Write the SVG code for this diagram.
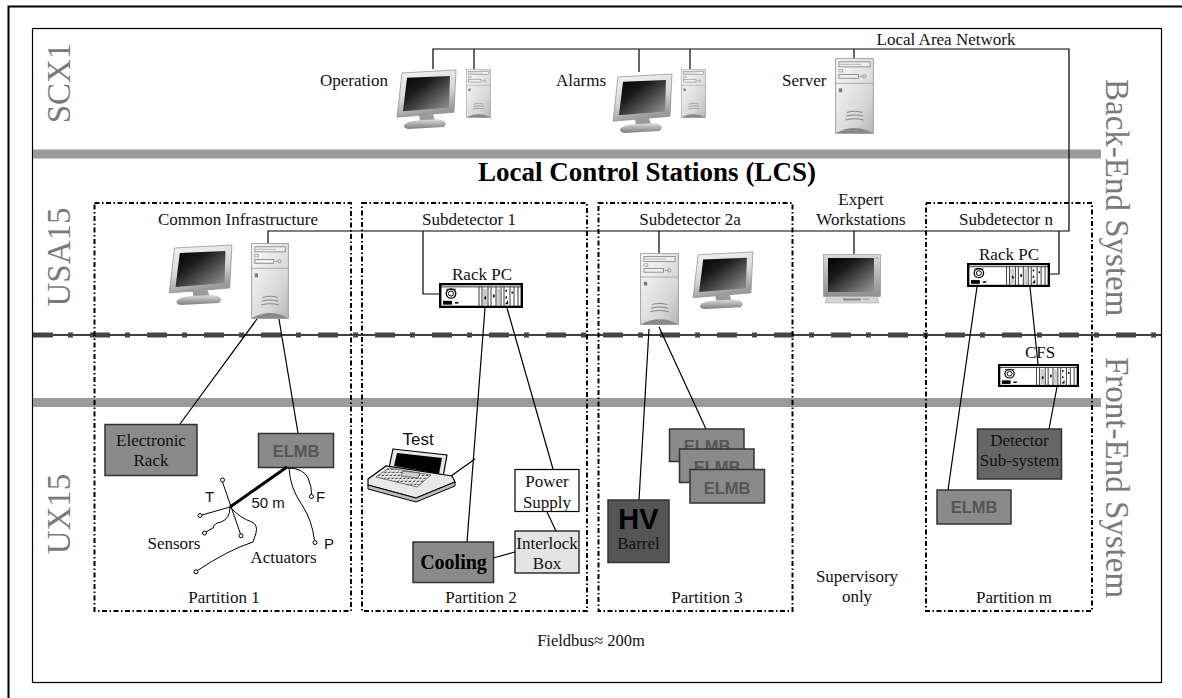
<svg xmlns="http://www.w3.org/2000/svg" width="1182" height="698" viewBox="0 0 1182 698">
<style>
  .serif { font-family: "Liberation Serif", "Times New Roman", serif; font-size: 17px; fill: #111; }
  .sans { font-family: "Liberation Sans", Arial, sans-serif; fill: #111; }
  .region { font-family: "Liberation Serif", "Times New Roman", serif; font-size: 33px; fill: #7a7a7a; }
  .mid { text-anchor: middle; }
  .part { fill: none; stroke: #000; stroke-width: 2; stroke-dasharray: 5 2.5 1.5 2.5; }
  .wire { fill: none; stroke: #000; stroke-width: 1.2; }
  .box { stroke: #333; stroke-width: 1.5; }
  .elmb { fill: #8a8a8a; stroke: #333; stroke-width: 1.5; }
  .elmbt { font-family: "Liberation Sans", Arial, sans-serif; font-weight: bold; font-size: 16.5px; fill: #555; text-anchor: middle; }
  .bar { fill: #9a9a9a; }
  .tip { fill: #fff; stroke: #000; stroke-width: 1; }
</style>
<defs>
  <linearGradient id="gFrame" x1="0" y1="0" x2="0.3" y2="1">
    <stop offset="0" stop-color="#f6f6f6"/>
    <stop offset="0.6" stop-color="#d6d6d6"/>
    <stop offset="1" stop-color="#9a9a9a"/>
  </linearGradient>
  <linearGradient id="gScreen" x1="0" y1="0" x2="1" y2="1">
    <stop offset="0" stop-color="#000"/>
    <stop offset="0.35" stop-color="#1c1c1c"/>
    <stop offset="1" stop-color="#9a9a9a"/>
  </linearGradient>
  <linearGradient id="gBase" x1="0" y1="0" x2="0" y2="1">
    <stop offset="0" stop-color="#dcdcdc"/>
    <stop offset="1" stop-color="#7c7c7c"/>
  </linearGradient>
  <linearGradient id="gTower" x1="0" y1="0" x2="1" y2="1">
    <stop offset="0" stop-color="#fafafa"/>
    <stop offset="0.7" stop-color="#d6d6d6"/>
    <stop offset="1" stop-color="#b4b4b4"/>
  </linearGradient>
  <linearGradient id="gCrt" x1="0" y1="0" x2="0" y2="1">
    <stop offset="0" stop-color="#d8d8d8"/>
    <stop offset="1" stop-color="#8e8e8e"/>
  </linearGradient>
  <pattern id="keys" width="4" height="3" patternUnits="userSpaceOnUse" patternTransform="skewX(-40)">
    <rect width="4" height="3" fill="#fff"/>
    <rect x="0.5" y="0.5" width="2.6" height="1.8" fill="#555"/>
  </pattern>

  <!-- flat-panel monitor on a stand -->
  <symbol id="lcd" viewBox="0 0 64 64" preserveAspectRatio="none">
    <path d="M8 5 L62 2 L60 45 L3 50 Z" fill="url(#gFrame)" stroke="#8a8a8a" stroke-width="0.7"/>
    <path d="M13 10 L56 8 L55 40 L9 44 Z" fill="url(#gScreen)"/>
    <path d="M25 48 L39 47 L41 53 L26 54 Z" fill="#9a9a9a"/>
    <path d="M10 58 Q12 54 24 53 L44 52 Q52 53 52 57 L50 60 L14 62 Q9 61 10 58 Z" fill="url(#gBase)"/>
  </symbol>

  <!-- desktop tower case -->
  <symbol id="tower" viewBox="0 0 30 60" preserveAspectRatio="none">
    <rect x="0.5" y="0.5" width="29" height="59" fill="url(#gTower)" stroke="#999" stroke-width="0.7"/>
    <rect x="3" y="3" width="24" height="4" fill="#eee" stroke="#777" stroke-width="0.6"/>
    <line x1="4" y1="5" x2="20" y2="5" stroke="#999" stroke-width="0.5"/>
    <rect x="3" y="9" width="3" height="2" fill="none" stroke="#888" stroke-width="0.5"/>
    <rect x="3" y="13" width="15" height="3" fill="#eee" stroke="#777" stroke-width="0.6"/>
    <circle cx="22.5" cy="14.5" r="1.3" fill="none" stroke="#777" stroke-width="0.5"/>
    <line x1="19" y1="14.5" x2="21.2" y2="14.5" stroke="#777" stroke-width="0.5"/>
    <line x1="0.5" y1="20" x2="29.5" y2="20" stroke="#999" stroke-width="0.6"/>
    <rect x="3" y="24" width="2.5" height="3" fill="#777"/>
    <path d="M9 43 Q15 41 21 43 M8.5 46 Q15 44 21.5 46 M8 49 Q15 47 22 49" stroke="#888" fill="none" stroke-width="0.8"/>
    <path d="M0.5 59.5 Q15 51 29.5 59.5 Z" fill="#8a8a8a"/>
  </symbol>

  <!-- rack-mounted industrial PC -->
  <symbol id="rackpc" viewBox="0 0 84 26" preserveAspectRatio="none">
    <rect x="1.2" y="1.2" width="81.6" height="23.6" fill="#fff" stroke="#000" stroke-width="2.4"/>
    <line x1="1" y1="4" x2="83" y2="4" stroke="#000" stroke-width="0.8"/>
    <circle cx="12" cy="11" r="4.8" fill="none" stroke="#000" stroke-width="1.3"/>
    <circle cx="12" cy="11" r="2.6" fill="none" stroke="#000" stroke-width="1"/>
    <line x1="7" y1="6.5" x2="17" y2="6.5" stroke="#000" stroke-width="0.8"/>
    <rect x="4" y="18.5" width="9" height="4" fill="#000"/>
    <rect x="16" y="19.8" width="3.5" height="1.6" fill="#000"/>
    <g stroke="#000" stroke-width="0.8">
      <line x1="40" y1="4" x2="40" y2="24"/>
      <line x1="43" y1="4" x2="43" y2="24"/>
      <line x1="49" y1="4" x2="49" y2="24"/>
      <line x1="52" y1="4" x2="52" y2="24"/>
      <line x1="57" y1="4" x2="57" y2="24"/>
      <line x1="62" y1="4" x2="62" y2="24"/>
      <line x1="65" y1="4" x2="65" y2="24"/>
      <line x1="71" y1="4" x2="71" y2="24"/>
      <line x1="75" y1="4" x2="75" y2="24"/>
      <line x1="79" y1="4" x2="79" y2="24"/>
    </g>
    <rect x="44" y="6" width="4" height="17" fill="#ccc"/>
    <rect x="58" y="6" width="3" height="17" fill="#ccc"/>
    <rect x="45.5" y="14" width="1.6" height="3" fill="#000"/>
    <rect x="54" y="12" width="1.6" height="3" fill="#000"/>
    <rect x="66.5" y="7" width="1.5" height="2" fill="#000"/>
    <rect x="66.5" y="14" width="1.5" height="2" fill="#000"/>
    <rect x="72.5" y="9" width="1.5" height="2" fill="#000"/>
    <path d="M66 22 L69 18 L69 22 Z" fill="#000"/>
  </symbol>

  <!-- CRT monitor -->
  <symbol id="crt" viewBox="0 0 58 50" preserveAspectRatio="none">
    <rect x="0.5" y="0.5" width="57" height="42" fill="url(#gCrt)" stroke="#888" stroke-width="0.6"/>
    <rect x="5" y="4" width="46" height="34" fill="url(#gScreen)"/>
    <circle cx="54" cy="4" r="0.8" fill="#777"/>
    <path d="M4 42.5 L54 42.5 L56 49 L2 49 Z" fill="#d4d4d4" stroke="#999" stroke-width="0.5"/>
    <rect x="20" y="44.5" width="18" height="2" fill="#8a8a8a"/>
    <rect x="40" y="44.5" width="6" height="1.5" fill="#aaa"/>
  </symbol>
</defs>

<rect width="1182" height="698" fill="#fff"/>

<!-- page frame -->
<g id="frame" fill="none">
  <path d="M8.5 698 L8.5 6.5 L1182 6.5" stroke="#000" stroke-width="2"/>
  <rect x="32.5" y="28.5" width="1129" height="654" stroke="#000" stroke-width="1.2"/>
</g>

<!-- level separators -->
<g id="levels">
  <rect class="bar" x="33" y="149.5" width="1068" height="9"/>
  <rect class="bar" x="33" y="398" width="1068" height="9"/>
  <line x1="33" y1="335" x2="1161" y2="335" stroke="#000" stroke-width="1.5"/>
  <line x1="33" y1="335" x2="1161" y2="335" stroke="#444" stroke-width="5" stroke-dasharray="20 15 5 17"/>
</g>

<!-- level and system labels -->
<g id="region-labels">
  <text class="region mid" transform="translate(70,83) rotate(-90)">SCX1</text>
  <text class="region mid" transform="translate(70,257) rotate(-90)">USA15</text>
  <text class="region mid" transform="translate(70,514) rotate(-90)">UX15</text>
  <text class="region" transform="translate(1106,79) rotate(90)">Back-End System</text>
  <text class="region" transform="translate(1106,357) rotate(90)">Front-End System</text>
</g>

<text id="title" class="serif mid" x="647" y="181" style="font-size:27px;font-weight:bold;fill:#000">Local Control Stations (LCS)</text>

<!-- partitions -->
<g id="partitions">
  <rect class="part" x="94.5" y="203" width="256.5" height="408"/>
  <rect class="part" x="362" y="203" width="225" height="408"/>
  <rect class="part" x="598.5" y="203" width="194" height="408"/>
  <rect class="part" x="926" y="203" width="166" height="408"/>
  <text class="serif mid" x="224" y="603">Partition 1</text>
  <text class="serif mid" x="481" y="603">Partition 2</text>
  <text class="serif mid" x="707" y="603">Partition 3</text>
  <text class="serif mid" x="1014" y="603">Partition m</text>
  <text class="serif mid" x="857" y="582">Supervisory</text>
  <text class="serif mid" x="857" y="602">only</text>
</g>

<!-- connectors -->
<g id="connectors" class="wire">
  <path d="M433 69 L433 49 L1069 49 L1069 231 L268 231 L268 243"/>
  <path d="M474 49 L474 69"/>
  <path d="M639 49 L639 72"/>
  <path d="M690 49 L690 69"/>
  <path d="M854 49 L854 58"/>
  <path d="M423 231 L423 294 L439 294"/>
  <path d="M659 231 L659 253"/>
  <path d="M854 231 L854 254"/>
  <path d="M1059 231 L1059 274 L1049 274"/>
  <path d="M257 319 L180 424"/>
  <path d="M279 319 L298 433"/>
  <path d="M485 308 L467 542"/>
  <path d="M507 308 L553 469"/>
  <path d="M451 476 L475 459"/>
  <path d="M547 512 L556 531"/>
  <path d="M493 558 L515 552"/>
  <path d="M649 329 L639 500"/>
  <path d="M659 327 L706 429"/>
  <path d="M977 287 L948 490"/>
  <path d="M1030 287 L1038 364"/>
  <path d="M1057 387 L1049 429"/>
</g>

<!-- SCX1 control room -->
<g id="operation">
  <text class="serif" x="320" y="86">Operation</text>
  <use href="#lcd" x="394" y="68" width="64" height="63"/>
  <use href="#tower" x="466" y="69" width="25" height="49"/>
</g>
<g id="alarms">
  <text class="serif" x="556" y="86">Alarms</text>
  <use href="#lcd" x="610" y="72" width="64" height="63"/>
  <use href="#tower" x="681" y="69" width="25" height="49"/>
</g>
<g id="server">
  <text class="serif" x="782" y="86">Server</text>
  <use href="#tower" x="835" y="58" width="39" height="76"/>
</g>
<text id="lan-label" class="serif mid" x="946" y="45">Local Area Network</text>

<!-- local control stations -->
<g id="common-infrastructure">
  <text class="serif mid" x="238" y="225">Common Infrastructure</text>
  <use href="#lcd" x="166" y="243" width="68" height="64"/>
  <use href="#tower" x="251" y="243" width="38" height="76"/>
</g>
<g id="subdetector-1">
  <text class="serif mid" x="469" y="225">Subdetector 1</text>
  <text class="serif mid" x="482" y="280">Rack PC</text>
  <use href="#rackpc" x="439" y="283" width="84" height="25"/>
</g>
<g id="subdetector-2a">
  <text class="serif mid" x="690" y="225">Subdetector 2a</text>
  <use href="#tower" x="640" y="253" width="39" height="72"/>
  <use href="#lcd" x="690" y="250" width="65" height="61"/>
</g>
<g id="expert-workstations">
  <text class="serif mid" x="861" y="205">Expert</text>
  <text class="serif mid" x="861" y="225">Workstations</text>
  <use href="#crt" x="823" y="254" width="58" height="50"/>
</g>
<g id="subdetector-n">
  <text class="serif mid" x="1006" y="225">Subdetector n</text>
  <text class="serif mid" x="1009" y="260">Rack PC</text>
  <use href="#rackpc" x="967" y="263" width="83" height="24"/>
</g>
<g id="cfs">
  <text class="serif mid" x="1040" y="358">CFS</text>
  <use href="#rackpc" x="998" y="364" width="81" height="23"/>
</g>

<!-- partition 1 front-end -->
<g id="electronic-rack">
  <rect class="box" x="105" y="424.5" width="92" height="51" fill="#8a8a8a"/>
  <text class="serif mid" x="151" y="446">Electronic</text>
  <text class="serif mid" x="151" y="466">Rack</text>
</g>
<g id="elmb-1">
  <rect class="elmb" x="258.5" y="433.5" width="75" height="34"/>
  <text class="elmbt" x="296" y="457">ELMB</text>
</g>
<g id="sensors-actuators">
  <g fill="none" stroke="#000" stroke-width="1">
    <path d="M287 467 L230 507" stroke-width="3"/>
    <path d="M230 507 L202 515"/>
    <path d="M222.5 482 L240.5 534"/>
    <path d="M230 507 Q230 519 221 522 Q214 523 213 528 L206 532"/>
    <path d="M230 507 Q240 518 252 522 Q258 525 256 533 L253 542 Q228 550 197.5 570.5"/>
    <path d="M288 468 Q303 468 308 478 Q312 487 311.5 494.5"/>
    <path d="M289 468 Q290 488 302 505 Q312 520 314.5 540.5"/>
  </g>
  <circle class="tip" cx="200" cy="515.5" r="2"/>
  <circle class="tip" cx="222.5" cy="480" r="2"/>
  <circle class="tip" cx="241" cy="535.8" r="2"/>
  <circle class="tip" cx="204.5" cy="533" r="2"/>
  <circle class="tip" cx="196" cy="571.8" r="2"/>
  <circle class="tip" cx="311.5" cy="496.5" r="2"/>
  <circle class="tip" cx="315" cy="542.5" r="2"/>
  <text class="sans" x="205" y="502" font-size="15">T</text>
  <text class="sans" x="251.5" y="508" font-size="15">50 m</text>
  <text class="sans" x="316" y="502" font-size="15">F</text>
  <text class="sans" x="324" y="549" font-size="15">P</text>
  <text class="serif" x="147.5" y="549">Sensors</text>
  <text class="serif" x="250.5" y="562.5">Actuators</text>
</g>

<!-- partition 2 front-end -->
<g id="test-laptop">
  <text class="sans" x="402.5" y="445" font-size="17">Test</text>
  <path d="M393 449 L447 455 L443 477 L389 468 Z" fill="#e6e6e6" stroke="#000" stroke-width="1.2"/>
  <path d="M397 453 L442 458 L439 474 L394 466 Z" fill="#000"/>
  <path d="M368 479 L386 466 L452 476 L455 482 L416 498 L368 485 Z" fill="#e8e8e8" stroke="#000" stroke-width="1.2"/>
  <path d="M376 477 L389 468 L431 475 L417 487 Z" fill="url(#keys)" stroke="#333" stroke-width="0.6"/>
  <path d="M368 485 L416 498 L455 482 L455 486 L416 502 L368 489 Z" fill="#bbb" stroke="#000" stroke-width="1"/>
  <path d="M403 471 L420 473 L418 478 L401 476 Z" fill="#ccc" stroke="#333" stroke-width="0.6"/>
</g>
<g id="power-supply">
  <rect x="515" y="469.5" width="64" height="42" fill="#fff" stroke="#000" stroke-width="1.2"/>
  <text class="serif mid" x="547" y="487">Power</text>
  <text class="serif mid" x="547" y="507.5">Supply</text>
</g>
<g id="interlock-box">
  <rect x="515" y="531" width="64" height="42" fill="#e4e4e4" stroke="#000" stroke-width="1.2"/>
  <text class="serif mid" x="547" y="549">Interlock</text>
  <text class="serif mid" x="547" y="568.5">Box</text>
</g>
<g id="cooling">
  <rect class="box" x="413" y="542" width="80.5" height="40.5" fill="#8a8a8a"/>
  <text class="serif mid" x="453.5" y="569" style="font-size:20px;font-weight:bold;fill:#000">Cooling</text>
</g>

<!-- partition 3 front-end -->
<g id="hv-barrel">
  <rect class="box" x="608" y="500" width="61" height="62.5" fill="#555"/>
  <text class="sans mid" x="638.5" y="529" style="font-size:29px;font-weight:bold;fill:#000">HV</text>
  <text class="serif mid" x="638.5" y="549">Barrel</text>
</g>
<g id="elmb-stack">
  <rect class="elmb" x="669.5" y="429" width="74.5" height="32.5"/>
  <text class="elmbt" x="707" y="452">ELMB</text>
  <rect class="elmb" x="679.5" y="449" width="74.5" height="33.5"/>
  <text class="elmbt" x="717" y="472.5">ELMB</text>
  <rect class="elmb" x="690" y="469.5" width="74.5" height="33.5"/>
  <text class="elmbt" x="727" y="493.5">ELMB</text>
</g>

<!-- partition m front-end -->
<g id="detector-subsystem">
  <rect class="box" x="977.5" y="429" width="84" height="50" fill="#666"/>
  <text class="serif mid" x="1019.5" y="446">Detector</text>
  <text class="serif mid" x="1019.5" y="465.5">Sub-system</text>
</g>
<g id="elmb-m">
  <rect class="elmb" x="937" y="490" width="74" height="34"/>
  <text class="elmbt" x="974" y="513">ELMB</text>
</g>

<text id="fieldbus" class="serif mid" x="591" y="646" style="font-size:16.5px">Fieldbus≈ 200m</text>
</svg>
